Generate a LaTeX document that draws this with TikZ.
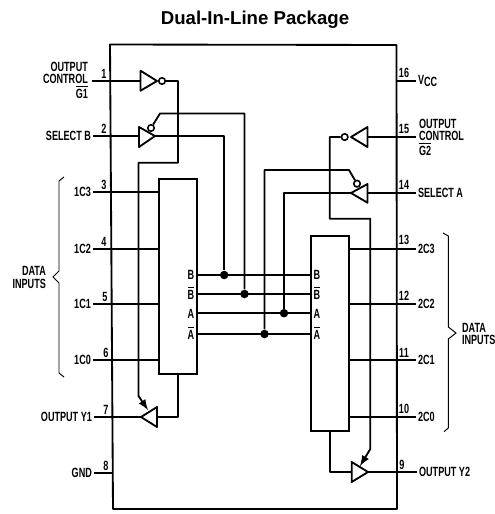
\documentclass[tikz,border=0pt]{standalone}
\usepackage{fontspec}
\setmainfont{Liberation Sans}
\newfontfamily\pinfont[FakeStretch=0.68]{Liberation Sans}
\usetikzlibrary{calc, arrows}
\tikzset{>=latex}
\tikzset{wire/.style={line width = 1.05pt, line join = round},
  thinwire/.style={line width = 0.55pt},
  pinlabel/.style={font = \pinfont\bfseries\fontsize{7.6}{6.9}\selectfont, inner sep = 1pt},
  pinnum/.style={pinlabel, anchor = base},
  bubble/.style={draw, circle, line width = 0.9pt, fill = white, inner sep = 0pt, minimum size = 0.13cm},
  junction/.style={fill, circle, inner sep = 0pt, minimum size = 0.17cm},
  muxbox/.style={draw, line width = 1.05pt, inner sep = 0pt, outer sep = 0pt, minimum width = 0.76cm}}
\begin{document}
\begin{tikzpicture}[x = 0.02cm, y = -0.02cm]
\useasboundingbox (0,0) rectangle (494,514);
\node[font = \bfseries\fontsize{10.6}{12}\selectfont, anchor = base] (title) at (255,24) {Dual-In-Line Package};
\draw[wire] (110,44.5) -- (396.5,45) -- (397,509) -- (113,509) -- cycle;

% pins, left side
\coordinate (p1) at (92,81);
\coordinate (p2) at (93,136);
\coordinate (p3) at (93,192);
\coordinate (p4) at (93,249);
\coordinate (p5) at (93,304);
\coordinate (p6) at (93,360);
\coordinate (p7) at (94,417);
\coordinate (p8) at (94,473);
\node[pinlabel, anchor = east, align = right] (lb1) at (90,80.5) {OUTPUT\\CONTROL\\$\overline{\mbox{G1}}$};
\node[pinlabel, anchor = east] (lb2) at (p2) {SELECT B};
\node[pinlabel, anchor = east] (lb3) at (p3) {1C3};
\node[pinlabel, anchor = east] (lb4) at (p4) {1C2};
\node[pinlabel, anchor = east] (lb5) at (p5) {1C1};
\node[pinlabel, anchor = east] (lb6) at (p6) {1C0};
\node[pinlabel, anchor = east] (lb7) at (p7) {OUTPUT Y1};
\node[pinlabel, anchor = east] (lb8) at (p8) {GND};
\node[pinnum] (n1) at (104,78) {1};
\node[pinnum] (n2) at (104,133) {2};
\node[pinnum] (n3) at (104,189) {3};
\node[pinnum] (n4) at (104,246) {4};
\node[pinnum] (n5) at (105,301) {5};
\node[pinnum] (n6) at (106,357) {6};
\node[pinnum] (n7) at (106,414) {7};
\node[pinnum] (n8) at (106,470) {8};

% pins, right side
\coordinate (p9) at (417,472);
\coordinate (p10) at (416,417);
\coordinate (p11) at (416,360);
\coordinate (p12) at (416,304);
\coordinate (p13) at (416,249);
\coordinate (p14) at (416,193);
\coordinate (p15) at (416,137);
\coordinate (p16) at (416,81);
\node[pinlabel, anchor = west] (lb9) at (p9) {OUTPUT Y2};
\node[pinlabel, anchor = west] (lb10) at (p10) {2C0};
\node[pinlabel, anchor = west] (lb11) at (p11) {2C1};
\node[pinlabel, anchor = west] (lb12) at (p12) {2C2};
\node[pinlabel, anchor = west] (lb13) at (p13) {2C3};
\node[pinlabel, anchor = west] (lb14) at (p14) {SELECT A};
\node[pinlabel, anchor = west, align = left] (lb15) at (417,137) {OUTPUT\\CONTROL\\$\overline{\mbox{G2}}$};
\node[pinlabel, anchor = west] (lb16) at (p16) {V\raisebox{-1pt}{CC}};
\node[pinnum] (n9) at (402,469) {9};
\node[pinnum] (n10) at (404,413) {10};
\node[pinnum] (n11) at (404,357) {11};
\node[pinnum] (n12) at (404,300) {12};
\node[pinnum] (n13) at (404,244) {13};
\node[pinnum] (n14) at (404,189) {14};
\node[pinnum] (n15) at (404,133) {15};
\node[pinnum] (n16) at (404,77) {16};

% multiplexers
\node[muxbox, minimum height = 3.9cm] (mux1) at (178,276.5) {};
\node[muxbox, minimum height = 3.9cm] (mux2) at (330,333.5) {};
\draw[wire] (p3) -- (p3 -| mux1.west);
\draw[wire] (p4) -- (p4 -| mux1.west);
\draw[wire] (p5) -- (p5 -| mux1.west);
\draw[wire] (p6) -- (p6 -| mux1.west);
\draw[wire] (p13) -- (p13 -| mux2.east);
\draw[wire] (p12) -- (p12 -| mux2.east);
\draw[wire] (p11) -- (p11 -| mux2.east);
\draw[wire] (p10) -- (p10 -| mux2.east);
\draw[wire] (p8) -- (113,473);
\draw[wire] (p16) -- (397,81);

% select lines
\node[junction] (jb) at (224.2,275) {};
\node[junction] (jbn) at (244.5,294) {};
\node[junction] (ja) at (284,313.2) {};
\node[junction] (jan) at (264.5,334) {};
\draw[wire] (mux1.east |- jb) -- (mux2.west |- jb);
\draw[wire] (mux1.east |- jbn) -- (mux2.west |- jbn);
\draw[wire] (mux1.east |- ja) -- (mux2.west |- ja);
\draw[wire] (mux1.east |- jan) -- (mux2.west |- jan);
\node[pinlabel] (lbb1) at (191,275) {B};
\node[pinlabel] (lbbn1) at (191,293) {$\overline{\mbox{B}}$};
\node[pinlabel] (lba1) at (191,313.5) {A};
\node[pinlabel] (lban1) at (191,333) {$\overline{\mbox{A}}$};
\node[pinlabel] (lbb2) at (317,275) {B};
\node[pinlabel] (lbbn2) at (317,293) {$\overline{\mbox{B}}$};
\node[pinlabel] (lba2) at (317,313.5) {A};
\node[pinlabel] (lban2) at (317,333) {$\overline{\mbox{A}}$};

% gates
\draw[wire] (140.5,70.7) -- (157,81) -- (140.5,90.7) -- cycle;
\node[bubble] (bub1) at (162,81) {};
\draw[wire] (p1) -- (140.5,81);
\draw[wire] (bub1) -- (178,81) -- (178,162.7) -- (138.5,162.7) -- (138.5,396) [->] -- (148,410);
\draw[wire] (139,127) -- (155,136) -- (139,147) -- cycle;
\node[bubble] (bub2) at (151,128) {};
\draw[wire] (p2) -- (139,136);
\draw[wire] (155,136) -- (224.2,136) -- (jb);
\draw[wire] (bub2) -- (160,113.5) -- (244.5,113.5) -- (jbn);

\draw[wire] (141,417) -- (157,407) -- (157,427) -- cycle;
\draw[wire] (p7) -- (141,417);
\draw[wire] (mux1.south) -- (178,417) -- (157,417);

\draw[wire] (367.5,127) -- (351,137) -- (367.5,147) -- cycle;
\node[bubble] (bub3) at (344.7,137) {};
\draw[wire] (p15) -- (367.5,137);
\draw[wire] (bub3) -- (329.7,137) -- (329.7,218.7) -- (370.3,218.7) -- (370.3,449) [->] -- (360,466);
\draw[wire] (367.5,184) -- (351,193) -- (367.5,202.7) -- cycle;
\node[bubble] (bub4) at (357,183.7) {};
\draw[wire] (p14) -- (367.5,193);
\draw[wire] (351,193) -- (284,193) -- (ja);
\draw[wire] (bub4) -- (349,170) -- (264.5,170) -- (jan);

\draw[wire] (351.7,462) -- (368,472) -- (351.7,482) -- cycle;
\draw[wire] (368,472) -- (p9);
\draw[wire] (mux2.south) -- (330,472) -- (351.7,472);

% braces
\draw[thinwire] (64,177) -- (59,181) -- (59,271) -- (53,277) -- (59,283) -- (59,373) -- (64,377);
\draw[thinwire] (443,233) -- (448.3,236) -- (448.3,327) -- (456,333) -- (448.3,339) -- (448.3,428) -- (444,431.7);
\node[pinlabel, anchor = east, align = right] (lbdata1) at (48,277.5) {DATA\\INPUTS};
\node[pinlabel, anchor = west, align = left] (lbdata2) at (460,334) {DATA\\INPUTS};
\end{tikzpicture}
\end{document}
